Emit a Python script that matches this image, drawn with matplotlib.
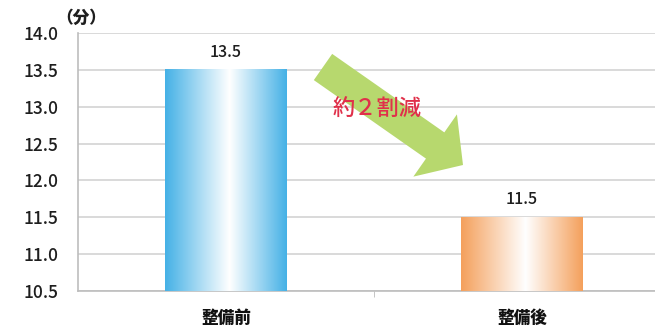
import matplotlib
matplotlib.use("Agg")
import matplotlib.pyplot as plt
import numpy as np
from matplotlib.colors import LinearSegmentedColormap
from matplotlib.patches import FancyArrow
from matplotlib.transforms import Affine2D

plt.rcParams["font.family"] = ["Noto Sans CJK JP", "DejaVu Sans"]

categories = ["整備前", "整備後"]
minutes = [13.5, 11.5]
edge_colors = ["#45b1e6", "#f4a05c"]
yticks = [10.5, 11.0, 11.5, 12.0, 12.5, 13.0, 13.5, 14.0]

W, H, DPI = 655, 327, 100
fig = plt.figure(figsize=(W / DPI, H / DPI), dpi=DPI)
ax = fig.add_axes([78 / W, 36 / H, 592 / W, 258 / H])
# pixel coordinates (origin top-left) for the decorative arrow and note
px = Affine2D().scale(1 / DPI, -1 / DPI).translate(0, H / DPI) + fig.dpi_scale_trans

ymin, ymax = 10.5, 14.0
bar_w = 0.41
x = np.arange(len(categories))
ink = "#1e1e1e"

# gradient fill: coloured edges fading to white in the middle
grad = np.linspace(0, 1, 256).reshape(1, -1)
for xi, v, c in zip(x, minutes, edge_colors):
    cmap = LinearSegmentedColormap.from_list("g", [(0, c), (0.53, "#ffffff"), (1, c)])
    ax.imshow(grad, cmap=cmap, aspect="auto", zorder=3,
              extent=[xi - bar_w / 2, xi + bar_w / 2, ymin, v])
    ax.text(xi, v + 0.12, f"{v:.1f}", ha="center", va="bottom",
            fontsize=11.5, fontweight="medium", color=ink, zorder=5)

ax.set_xlim(-0.5, 1.5)
ax.set_ylim(ymin, ymax)
ax.set_yticks(yticks)
ax.set_yticklabels([f"{t:.1f}" for t in yticks], fontsize=12.5,
                   fontweight="medium", color=ink)
ax.set_xticks(x)
ax.set_xticklabels(categories, fontsize=12, fontweight="heavy", color="#111111")
ax.set_xticks([0.5], minor=True)
ax.tick_params(axis="y", length=0, pad=14)
ax.tick_params(axis="x", which="major", length=0, pad=13)
ax.tick_params(axis="x", which="minor", length=4, color="#bbbbbb")
ax.grid(axis="y", color="#d9d9d9", lw=1.4, zorder=0)
for s in ["top", "right"]:
    ax.spines[s].set_visible(False)
for s in ["left", "bottom"]:
    ax.spines[s].set_color("#bdbdbd")
    ax.spines[s].set_linewidth(1.2)

ax.text(0.006, 1.06, "（分）", transform=ax.transAxes, ha="center", va="center",
        fontsize=12, fontweight="heavy", color=ink)

arrow = FancyArrow(323, 67, 140, 98, width=32, head_width=76, head_length=34,
                   length_includes_head=True, transform=px,
                   facecolor="#b7d86e", edgecolor="none", zorder=4)
fig.add_artist(arrow)
fig.text(377, 108, "約２割減", transform=px, ha="center", va="center",
         fontsize=16, fontweight="medium", color="#e0304a", zorder=6)

fig.savefig("out.png", dpi=DPI)
